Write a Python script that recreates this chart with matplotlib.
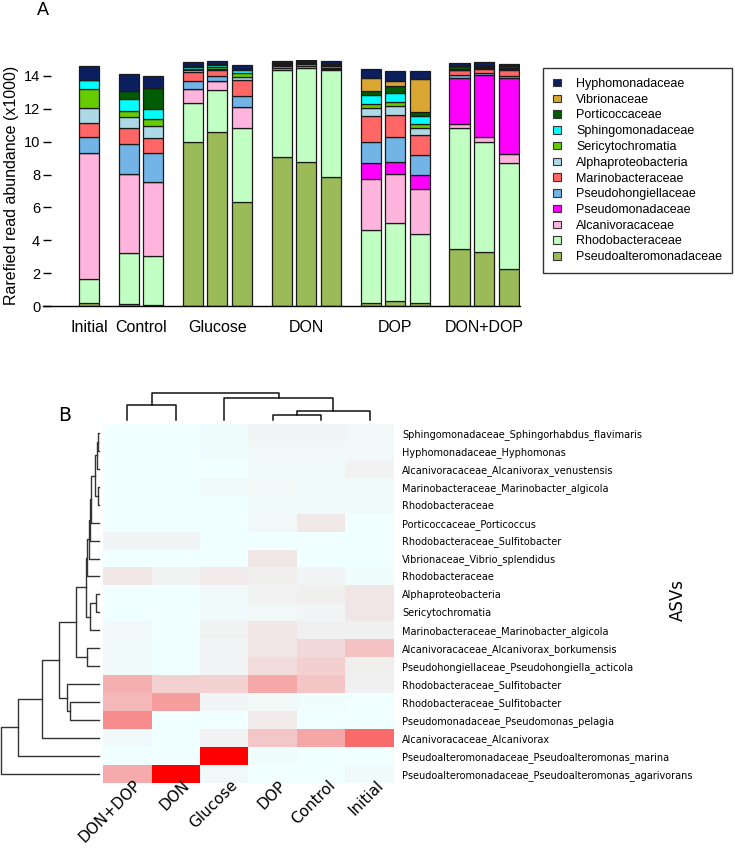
import numpy as np
import matplotlib
matplotlib.use("Agg")
import matplotlib.pyplot as plt
import matplotlib.transforms as mtransforms
from matplotlib.colors import LinearSegmentedColormap
from matplotlib.patches import Patch

# ---------------- panel A data (x1000 reads) ----------------
groups = ["Initial", "Control", "Glucose", "DON", "DOP", "DON+DOP"]
reps = [1, 2, 3, 3, 3, 3]

# stacking order, bottom -> top
families = [
    "Pseudoalteromonadaceae", "Rhodobacteraceae", "Alcanivoracaceae",
    "Pseudomonadaceae", "Pseudohongiellaceae", "Marinobacteraceae",
    "Alphaproteobacteria", "Sericytochromatia", "Sphingomonadaceae",
    "Porticoccaceae", "Vibrionaceae", "Hyphomonadaceae",
]
fam_colors = [
    "#9bbb59", "#c2ffc2", "#ffb4de", "#ff00ff", "#72b4e6", "#ff6666",
    "#add8e6", "#66cc00", "#00ffff", "#005c05", "#daa632", "#0b1f5e",
]

# samples: Ini, C1, C2, G1, G2, G3, N1, N2, N3, P1, P2, P3, NP1, NP2, NP3
pseudoalteromonadaceae = [0.2, 0.1, 0.08, 9.96, 10.61, 6.31, 9.05, 8.75, 7.83, 0.18, 0.32, 0.16, 3.47, 3.27, 2.23]
rhodobacteraceae = [1.42, 3.1, 2.94, 2.41, 2.54, 4.54, 5.33, 5.75, 6.53, 4.47, 4.73, 4.2, 7.34, 6.73, 6.46]
alcanivoracaceae = [7.71, 4.85, 4.55, 0.82, 0.53, 1.28, 0.10, 0.13, 0.04, 3.06, 2.96, 2.74, 0.25, 0.30, 0.54]
pseudomonadaceae = [0, 0, 0, 0, 0, 0, 0, 0, 0, 0.98, 0.77, 0.85, 2.84, 3.76, 4.63]
pseudohongiellaceae = [0.94, 1.79, 1.76, 0.52, 0.34, 0.63, 0.12, 0.08, 0.10, 1.27, 1.52, 1.22, 0.16, 0.14, 0.14]
marinobacteraceae = [0.87, 0.97, 0.89, 0.51, 0.34, 1.0, 0.08, 0.06, 0.08, 1.62, 1.34, 1.22, 0.30, 0.25, 0.36]
alphaproteobacteria = [0.91, 0.67, 0.74, 0.15, 0.09, 0.2, 0.06, 0.04, 0.06, 0.45, 0.53, 0.44, 0.03, 0.05, 0.04]
sericytochromatia = [1.14, 0.41, 0.42, 0.06, 0.10, 0.22, 0.02, 0.01, 0.02, 0.24, 0.26, 0.25, 0.02, 0.02, 0.02]
sphingomonadaceae = [0.56, 0.71, 0.63, 0.10, 0.10, 0.18, 0.02, 0.01, 0.02, 0.57, 0.52, 0.5, 0.02, 0.03, 0.08]
porticoccaceae = [0, 0.47, 1.24, 0.08, 0.07, 0.06, 0.05, 0.05, 0.05, 0.26, 0.44, 0.22, 0.20, 0.08, 0.10]
vibrionaceae = [0, 0, 0, 0, 0, 0, 0, 0, 0, 0.78, 0.32, 2.02, 0, 0, 0]
hyphomonadaceae = [0.84, 1.03, 0.73, 0.25, 0.18, 0.25, 0.10, 0.09, 0.20, 0.52, 0.61, 0.48, 0.14, 0.20, 0.13]

stack = [pseudoalteromonadaceae, rhodobacteraceae, alcanivoracaceae, pseudomonadaceae,
         pseudohongiellaceae, marinobacteraceae, alphaproteobacteria, sericytochromatia,
         sphingomonadaceae, porticoccaceae, vibrionaceae, hyphomonadaceae]

# ---------------- panel B data ----------------
hm_cols = ["DON+DOP", "DON", "Glucose", "DOP", "Control", "Initial"]
asv_labels = [
    "Sphingomonadaceae_Sphingorhabdus_flavimaris",
    "Hyphomonadaceae_Hyphomonas",
    "Alcanivoracaceae_Alcanivorax_venustensis",
    "Marinobacteraceae_Marinobacter_algicola",
    "Rhodobacteraceae",
    "Porticoccaceae_Porticoccus",
    "Rhodobacteraceae_Sulfitobacter",
    "Vibrionaceae_Vibrio_splendidus",
    "Rhodobacteraceae",
    "Alphaproteobacteria",
    "Sericytochromatia",
    "Marinobacteraceae_Marinobacter_algicola",
    "Alcanivoracaceae_Alcanivorax_borkumensis",
    "Pseudohongiellaceae_Pseudohongiella_acticola",
    "Rhodobacteraceae_Sulfitobacter",
    "Rhodobacteraceae_Sulfitobacter",
    "Pseudomonadaceae_Pseudomonas_pelagia",
    "Alcanivoracaceae_Alcanivorax",
    "Pseudoalteromonadaceae_Pseudoalteromonas_marina",
    "Pseudoalteromonadaceae_Pseudoalteromonas_agarivorans",
]
hm_values = np.array([
    [0.00, 0.00, 0.01, 0.04, 0.04, 0.03],
    [0.00, 0.00, 0.01, 0.03, 0.03, 0.03],
    [0.00, 0.00, 0.00, 0.02, 0.02, 0.05],
    [0.00, 0.00, 0.02, 0.03, 0.02, 0.02],
    [0.00, 0.00, 0.00, 0.02, 0.02, 0.02],
    [0.00, 0.00, 0.00, 0.03, 0.09, 0.00],
    [0.04, 0.04, 0.00, 0.00, 0.00, 0.00],
    [0.00, 0.00, 0.00, 0.10, 0.00, 0.00],
    [0.10, 0.05, 0.08, 0.07, 0.04, 0.01],
    [0.00, 0.00, 0.02, 0.05, 0.07, 0.10],
    [0.00, 0.00, 0.02, 0.03, 0.04, 0.10],
    [0.03, 0.00, 0.05, 0.10, 0.06, 0.06],
    [0.02, 0.00, 0.04, 0.10, 0.15, 0.24],
    [0.02, 0.00, 0.04, 0.14, 0.19, 0.07],
    [0.31, 0.18, 0.18, 0.34, 0.23, 0.06],
    [0.28, 0.38, 0.04, 0.03, 0.01, 0.00],
    [0.45, 0.00, 0.00, 0.08, 0.00, 0.00],
    [0.02, 0.00, 0.05, 0.22, 0.35, 0.58],
    [0.00, 0.00, 1.00, 0.01, 0.00, 0.00],
    [0.33, 1.00, 0.03, 0.00, 0.00, 0.02],
])

# dendrogram merges (child a, child b, height); ids >= n are earlier merges
col_links = [(0, 1, 15), (3, 4, 5), (7, 5, 9.3), (2, 8, 22), (6, 9, 26.7)]
row_links = [
    (0, 1, 4), (20, 2, 7), (3, 4, 5), (21, 22, 12), (23, 5, 24), (24, 6, 27),
    (25, 7, 30), (26, 8, 38), (9, 10, 11), (28, 11, 28), (27, 29, 41),
    (12, 13, 38), (30, 31, 70), (15, 16, 88), (14, 33, 98), (32, 34, 121),
    (17, 35, 173), (18, 36, 243), (19, 37, 296),
]


def draw_dendro(ax, links, n, orient="top", color="#222222"):
    pos = {i: i + 0.5 for i in range(n)}
    hgt = {i: 0.0 for i in range(n)}
    for k, (a, b, h) in enumerate(links):
        xa, xb = pos[a], pos[b]
        xs = [xa, xa, xb, xb]
        ys = [hgt[a], h, h, hgt[b]]
        if orient == "top":
            ax.plot(xs, ys, color=color, lw=1.1, clip_on=False)
        else:
            ax.plot(ys, xs, color=color, lw=1.0, clip_on=False)
        pos[n + k] = (xa + xb) / 2
        hgt[n + k] = h


fig = plt.figure(figsize=(7.35, 8.48), dpi=100)
W, H = 735.0, 848.0


def px_axes(x0, y0, x1, y1):
    return fig.add_axes([x0 / W, 1 - y1 / H, (x1 - x0) / W, (y1 - y0) / H])


# ---------------- panel A ----------------
arial = "Liberation Sans"
gap = 1.6
xpos = []
cur = 0.0
for g, r in zip(groups, reps):
    for i in range(r):
        xpos.append(cur)
        cur += 1
    cur += gap - 1
xpos = np.array(xpos)
group_centers = []
k = 0
for r in reps:
    group_centers.append(xpos[k:k + r].mean())
    k += r

ymax = 15.0
axA = px_axes(43, 306 - ymax * 16.43, 520, 306)
bottom = np.zeros(len(xpos))
for vals, c in zip(stack, fam_colors):
    vals = np.array(vals)
    axA.bar(xpos, vals, width=0.81, bottom=bottom, color=c,
            edgecolor="#1a1a1a", linewidth=0.9)
    bottom += vals
axA.set_xlim((43 - 89) / 24.7, (520 - 89) / 24.7)
axA.set_ylim(0, ymax)
axA.set_yticks(range(0, 15, 2))
axA.set_xticks(group_centers)
axA.set_xticklabels(groups, fontsize=11.5, family=arial)
for t in axA.get_yticklabels():
    t.set_fontsize(10.5)
    t.set_family(arial)
axA.tick_params(axis="x", length=0, pad=10)
axA.tick_params(axis="y", direction="in", length=6, width=1, pad=2)
for s in ["left", "top", "right"]:
    axA.spines[s].set_visible(False)
axA.spines["bottom"].set_linewidth(1.0)
fig.text(12 / W, 1 - 185 / H, "Rarefied read abundance (x1000)", rotation=90,
         ha="center", va="center", fontsize=11.5, family=arial)
fig.text(37 / W, 1 - 2 / H, "A", ha="left", va="top", fontsize=13, family=arial)

handles = [Patch(facecolor=c, edgecolor="#333333", linewidth=0.8, label=f)
           for f, c in zip(families, fam_colors)][::-1]
leg = fig.legend(handles=handles, loc="upper left",
                 bbox_to_anchor=(543 / W, 1 - 68 / H), frameon=True,
                 fancybox=False, prop={"family": arial, "size": 9},
                 handlelength=0.65, handleheight=0.55, handletextpad=1.2,
                 labelspacing=0.3, borderpad=0.8, borderaxespad=0)
leg.get_frame().set_edgecolor("black")
leg.get_frame().set_linewidth(1.0)

# ---------------- panel B ----------------
hx0, hx1, hy0, hy1 = 103, 394, 424, 782.7
axH = px_axes(hx0, hy0, hx1, hy1)
cmap = LinearSegmentedColormap.from_list("azred", ["#f0ffff", "#ff0000"])
axH.pcolormesh(hm_values, cmap=cmap, vmin=0, vmax=1)
axH.set_xlim(0, len(hm_cols))
axH.set_ylim(len(asv_labels), 0)
axH.set_xticks([])
shift = mtransforms.ScaledTranslation(0.06, 0.05, fig.dpi_scale_trans)
for i, lab in enumerate(hm_cols):
    axH.text(i + 0.5, len(asv_labels), lab, transform=axH.transData + shift,
             rotation=45, ha="right", va="top", rotation_mode="anchor",
             fontsize=11)
axH.set_yticks(np.arange(len(asv_labels)) + 0.5)
axH.set_yticklabels(asv_labels, fontsize=7)
axH.yaxis.tick_right()
axH.tick_params(axis="both", length=0)
axH.tick_params(axis="y", pad=6)
for s in axH.spines.values():
    s.set_visible(False)
fig.text(678 / W, 1 - 600 / H, "ASVs", rotation=90, ha="center", va="center",
         fontsize=12)
fig.text(58 / W, 1 - 421 / H, "B", ha="left", va="baseline", fontsize=13.5)

axC = px_axes(hx0, 392, hx1, 420)
draw_dendro(axC, col_links, len(hm_cols), orient="top", color="#111111")
axC.set_xlim(0, len(hm_cols))
axC.set_ylim(0, 28)
axC.axis("off")

axR = px_axes(0, hy0, 99.3, hy1)
draw_dendro(axR, row_links, len(asv_labels), orient="left", color="#333333")
axR.set_xlim(298, 0)
axR.set_ylim(len(asv_labels), 0)
axR.axis("off")

fig.savefig("out.png", dpi=100)
